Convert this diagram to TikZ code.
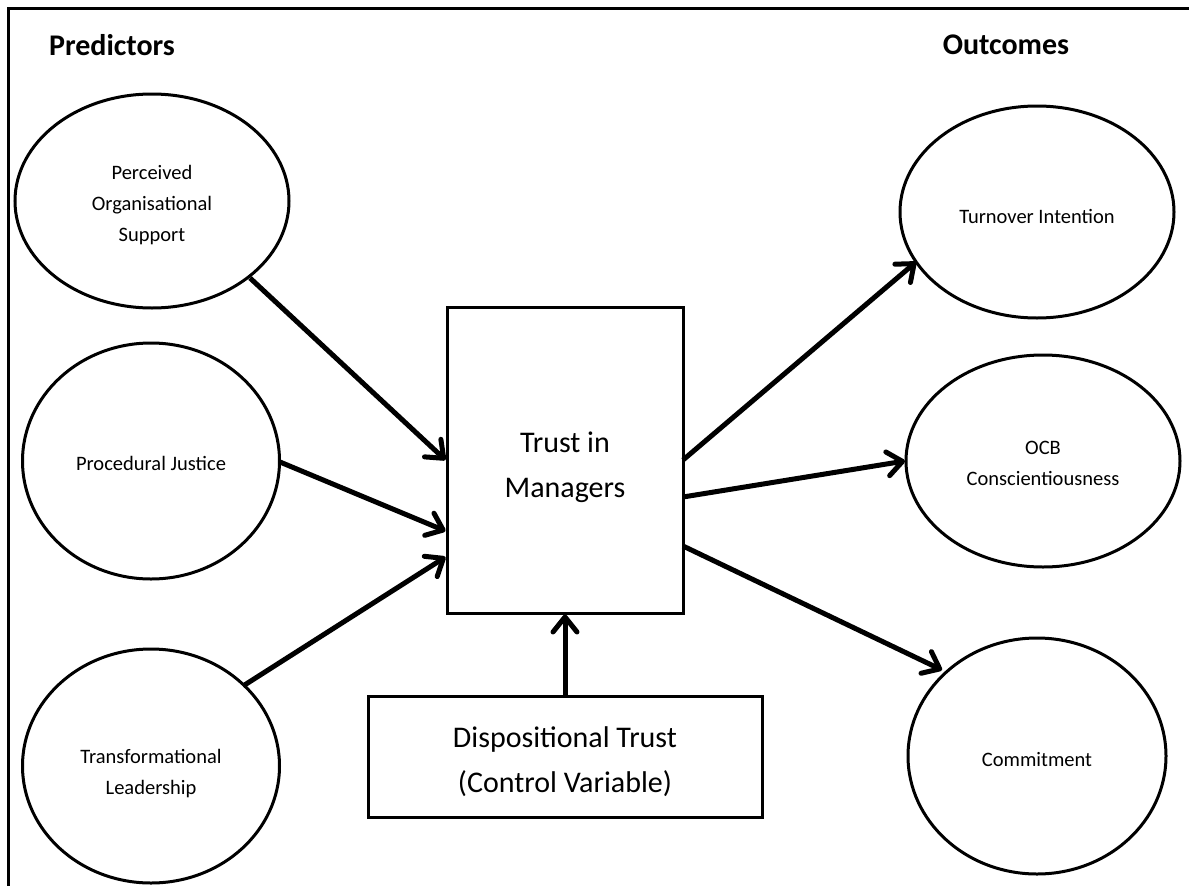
\documentclass[tikz,border=0pt]{standalone}
\usepackage{fontspec}
\setmainfont{Carlito}
\usetikzlibrary{shapes.geometric,arrows.meta}
\begin{document}
\begin{tikzpicture}[x=1pt,y=-1pt,
  oval/.style={ellipse,draw,line width=3pt,inner sep=0pt},
  ovaltext/.style={inner sep=0pt,align=center,font=\fontsize{20.5}{31}\selectfont},
  boxnode/.style={rectangle,draw,line width=3pt,inner sep=0pt},
  boxtext/.style={inner sep=0pt,align=center,font=\fontsize{30}{45}\selectfont},
  heading/.style={font=\fontsize{30}{36}\selectfont\bfseries,inner sep=0pt},
  link/.style={line width=5pt,-{Straight Barb[length=15pt,width=24pt,line cap=round,line join=round]}}
]
\useasboundingbox (0,0) rectangle (1189,886);
\draw[line width=3pt] (8,886) -- (8,8) -- (1189,8);

\node[heading] (pred) at (112,45) {Predictors};
\node[heading] (outc) at (1006,45) {Outcomes};

\node[oval,minimum width=274pt,minimum height=214pt] (pos) at (152,201) {};
\node[oval,minimum width=257pt,minimum height=236pt] (pj) at (151,461) {};
\node[oval,minimum width=257pt,minimum height=234pt] (tl) at (151,766) {};
\node[oval,minimum width=274pt,minimum height=212pt] (ti) at (1037,212) {};
\node[oval,minimum width=274pt,minimum height=212pt] (ocb) at (1043,461) {};
\node[oval,minimum width=258pt,minimum height=236pt] (com) at (1037,756) {};

\node[ovaltext] (post) at ([yshift=-4pt]pos.center) {Perceived\\Organisational\\Support};
\node[ovaltext] (pjt) at ([yshift=-2pt]pj.center) {Procedural Justice};
\node[ovaltext] (tlt) at ([yshift=-8pt]tl.center) {Transformational\\Leadership};
\node[ovaltext] (tit) at ([yshift=-4pt]ti.center) {Turnover Intention};
\node[ovaltext] (ocbt) at ([yshift=-2pt]ocb.center) {OCB\\Conscientiousness};
\node[ovaltext] (comt) at ([yshift=-4pt]com.center) {Commitment};

\node[boxnode,minimum width=236pt,minimum height=306pt] (trust) at (565,460) {};
\node[boxnode,minimum width=394pt,minimum height=121pt] (disp) at (565,757) {};
\node[boxtext] (trustt) at ([yshift=-7pt]trust.center) {Trust in\\Managers};
\node[boxtext] (dispt) at ([yshift=-5pt]disp.center) {Dispositional Trust\\(Control Variable)};

\coordinate (a1) at (250,278);
\coordinate (a2) at (280,462);
\coordinate (a3) at (243,686);
\coordinate (b1) at (683,460);
\coordinate (b2) at (683,497);
\coordinate (b3) at (683,546);
\coordinate (tiend) at (916,262);
\coordinate (ocbend) at (905,461);
\coordinate (comend) at (942,670);

\draw[link] (a1) -- (trust.west |- 0,460);
\draw[link] (a2) -- (trust.west |- 0,531);
\draw[link] (a3) -- (trust.west |- 0,557);
\draw[link] (b1) -- (tiend);
\draw[link] (b2) -- (ocbend);
\draw[link] (b3) -- (comend);
\draw[link] (disp.north) -- (trust.south);
\end{tikzpicture}
\end{document}
